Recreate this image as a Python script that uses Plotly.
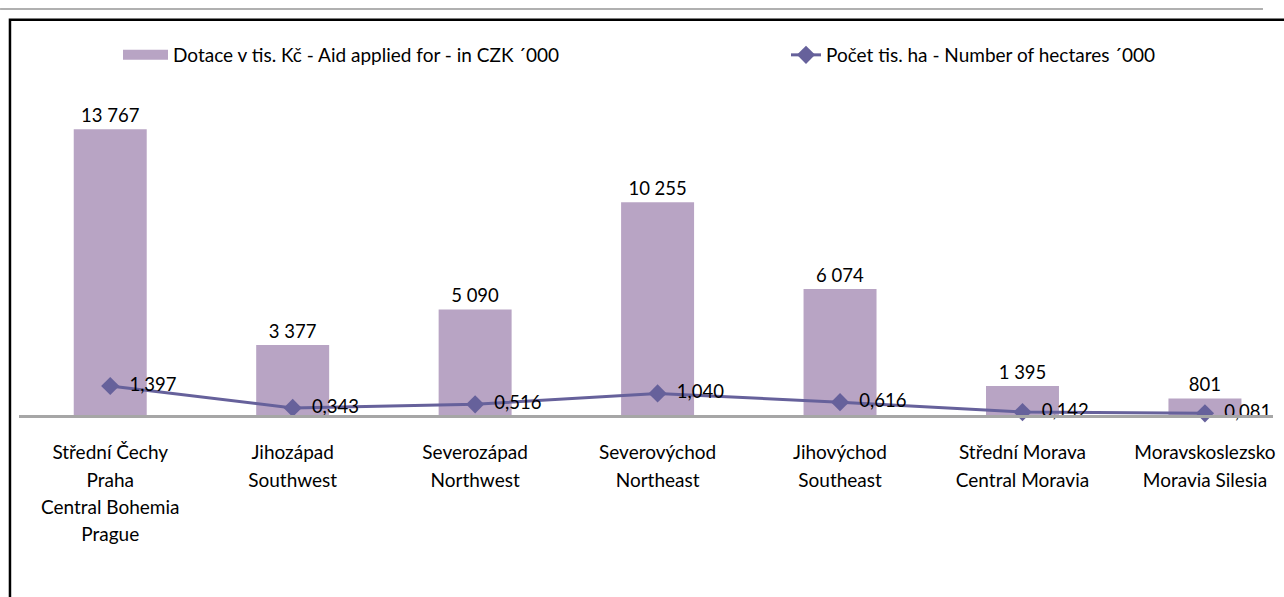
import plotly.graph_objects as go

categories_cz = ["Střední Čechy<br>Praha", "Jihozápad", "Severozápad", "Severovýchod",
                 "Jihovýchod", "Střední Morava", "Moravskoslezsko"]
categories_en = ["Central Bohemia<br>Prague", "Southwest", "Northwest", "Northeast",
                 "Southeast", "Central Moravia", "Moravia Silesia"]
aid_czk = [13767, 3377, 5090, 10255, 6074, 1395, 801]
aid_labels = ["13 767", "3 377", "5 090", "10 255", "6 074", "1 395", "801"]
hectares = [1.397, 0.343, 0.516, 1.040, 0.616, 0.142, 0.081]
hectare_labels = ["1,397", "0,343", "0,516", "1,040", "0,616", "0,142", "0,081"]

name_bar = "Dotace v tis. Kč - Aid applied for - in CZK ´000"
name_line = "Počet tis. ha - Number of hectares ´000"

FONT = "Lato"
BAR_COLOR = "#b8a4c4"
LINE_COLOR = "#66619b"
W, H = 1284, 597
ML, MR, MT, MB = 19, 9, 79, 182


def label(cz, en):
    parts = (cz + "<br>" + en).split("<br>")
    return "<br>".join(f"<span style='font-size:19px'>{p}</span>" for p in parts)


tick_text = [label(c, e) for c, e in zip(categories_cz, categories_en)]
x_idx = list(range(len(categories_cz)))

fig = go.Figure()
fig.add_trace(go.Bar(
    x=x_idx, y=aid_czk, name=name_bar, showlegend=False,
    marker=dict(color=BAR_COLOR, line=dict(width=0)),
    width=0.4,
    text=aid_labels, textposition="outside", cliponaxis=False,
    textfont=dict(family=FONT, size=18.5, color="black"),
    yaxis="y",
))
# legend proxy for the bar series (wide swatch like the original)
fig.add_trace(go.Scatter(
    x=[None], y=[None], mode="lines", name=name_bar,
    line=dict(color=BAR_COLOR, width=12), legend="legend",
))
fig.add_trace(go.Scatter(
    x=x_idx, y=hectares, name=name_line, mode="lines+markers+text",
    line=dict(color=LINE_COLOR, width=3),
    marker=dict(symbol="diamond", size=14, color=LINE_COLOR),
    text=hectare_labels, texttemplate="\u00a0\u00a0%{text}",
    textposition="middle right", cliponaxis=False,
    textfont=dict(family=FONT, size=18.5, color="black"),
    yaxis="y2", legend="legend2",
))

legend_common = dict(orientation="h", xref="container", yref="container",
                     y=1 - 55 / H, xanchor="left", yanchor="middle",
                     font=dict(family=FONT, size=19, color="black"),
                     bgcolor="rgba(0,0,0,0)", borderwidth=0)

fig.update_layout(
    width=W, height=H,
    margin=dict(l=ML, r=MR, t=MT, b=MB),
    paper_bgcolor="white", plot_bgcolor="white",
    font=dict(family=FONT, size=19, color="black"),
    showlegend=True,
    legend=dict(x=118 / W, itemwidth=45, **legend_common),
    legend2=dict(x=786 / W, itemwidth=30, **legend_common),
    xaxis=dict(range=[-0.5, 6.373], tickmode="array", tickvals=x_idx, ticktext=tick_text,
               tickfont=dict(family=FONT, size=21, color="black"),
               showline=True, linecolor="#a6a6a6", linewidth=3,
               showgrid=False, zeroline=False, ticks="", ticklabelstandoff=16),
    yaxis=dict(range=[0, 16000], visible=False, showgrid=False),
    yaxis2=dict(range=[0, 16], visible=False, overlaying="y", showgrid=False),
    bargap=0.6,
    shapes=[
        dict(type="line", xref="paper", yref="paper", x0=-0.0151, x1=0.992,
             y0=1.2232, y1=1.2232, line=dict(color="#b0b0b0", width=2)),
        dict(type="rect", xref="paper", yref="paper", x0=-0.0072, x1=1.2,
             y0=-1.0, y1=1.1905, line=dict(color="black", width=2.5),
             fillcolor="rgba(0,0,0,0)", layer="below"),
    ],
)

fig.write_html("out.html",
               config={"displayModeBar": False},
               post_script="document.body.style.margin='0';document.body.style.padding='0';")
